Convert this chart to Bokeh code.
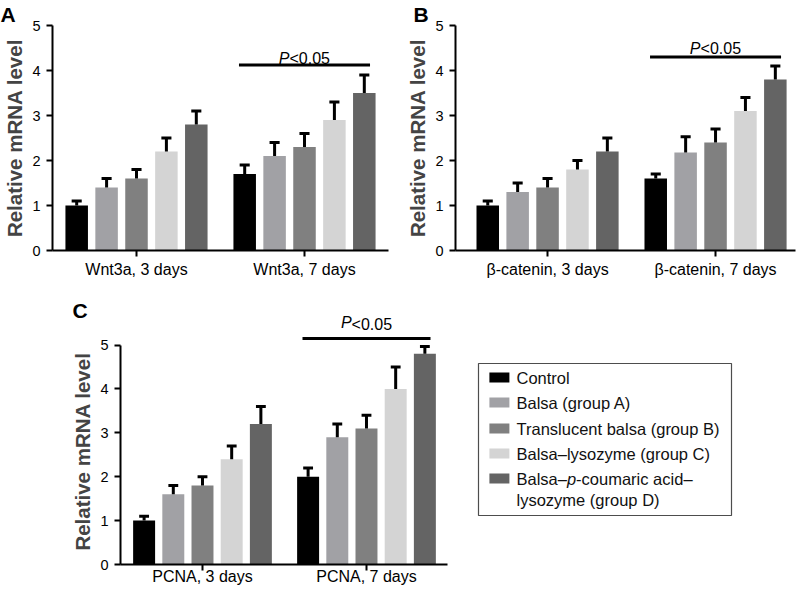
from bokeh.plotting import figure
from bokeh.layouts import column, row
from bokeh.models import Range1d, FixedTicker, Label, ColumnDataSource, LinearAxis
from bokeh.core.properties import value
from bokeh.embed import file_html
from bokeh.resources import INLINE

# ---------------- data ----------------
series = ["Control", "Balsa (group A)", "Translucent balsa (group B)",
          "Balsa–lysozyme (group C)", "Balsa–p-coumaric acid–lysozyme (group D)"]
colors = ["#000000", "#a1a1a5", "#808080", "#d4d4d4", "#646464"]

wnt3a_cats = ["Wnt3a, 3 days", "Wnt3a, 7 days"]
wnt3a_3d = [1.0, 1.4, 1.6, 2.2, 2.8]
wnt3a_3d_err = [0.1, 0.2, 0.2, 0.3, 0.3]
wnt3a_7d = [1.7, 2.1, 2.3, 2.9, 3.5]
wnt3a_7d_err = [0.2, 0.3, 0.3, 0.4, 0.4]

bcat_cats = ["β-catenin, 3 days", "β-catenin, 7 days"]
bcat_3d = [1.0, 1.3, 1.4, 1.8, 2.2]
bcat_3d_err = [0.1, 0.2, 0.2, 0.2, 0.3]
bcat_7d = [1.6, 2.18, 2.4, 3.1, 3.8]
bcat_7d_err = [0.1, 0.35, 0.3, 0.3, 0.3]

pcna_cats = ["PCNA, 3 days", "PCNA, 7 days"]
pcna_3d = [1.0, 1.6, 1.8, 2.4, 3.2]
pcna_3d_err = [0.1, 0.2, 0.2, 0.3, 0.4]
pcna_7d = [2.0, 2.9, 3.1, 4.0, 4.8]
pcna_7d_err = [0.2, 0.3, 0.3, 0.5, 0.17]

y_ticks = [0, 1, 2, 3, 4, 5]
sig_text = "P<0.05"
sig_level = {"A": 4.12, "B": 4.30, "C": 5.15}
y_label = "Relative mRNA level"

# ---------------- layout ----------------
FONT = "Liberation Sans"
PITCH = 0.178
BAR_W = 0.134
CAP = 0.03
SIG_HALF = 0.39


def style_axis(ax):
    ax.axis_line_width = 2
    ax.axis_line_color = "black"
    ax.major_tick_line_width = 2
    ax.major_tick_line_color = "black"
    ax.major_tick_in = 0
    ax.major_tick_out = 6
    ax.minor_tick_line_color = None
    ax.major_label_text_font = FONT
    ax.major_label_text_color = "black"


def sig_axis(tick, label, line, standoff, italic):
    ax = LinearAxis(bounds=(1 - SIG_HALF, 1 + SIG_HALF), ticker=FixedTicker(ticks=[tick]))
    ax.axis_line_width = 3
    ax.axis_line_color = "black" if line else None
    ax.major_tick_line_color = None
    ax.minor_tick_line_color = None
    ax.major_tick_out = 0
    ax.major_tick_in = 0
    ax.minor_tick_out = 0
    ax.minor_tick_in = 0
    ax.major_label_standoff = standoff
    ax.major_label_overrides = {tick: label}
    ax.major_label_text_font = FONT
    ax.major_label_text_font_size = "16px"
    ax.major_label_text_color = "black"
    if italic:
        ax.major_label_text_font_style = "italic"
    return ax


def make_panel(cats, m3, e3, m7, e7, w, h, borders, xr, y_end, sig_y, text_y,
               letter, letter_dx, letter_standoff, xlab_standoff, outside=False, ppu=168.0):
    l, r, t, b = borders
    p = figure(width=w, height=h,
               x_range=Range1d(*xr), y_range=Range1d(0, y_end),
               output_backend="svg", toolbar_location=None,
               min_border_left=l, min_border_right=r,
               min_border_top=t, min_border_bottom=b)
    p.outline_line_color = None
    p.grid.visible = False
    for i in range(5):
        xs = [g + (i - 2) * PITCH for g in (0, 1)]
        tops = [m3[i], m7[i]]
        ups = [m3[i] + e3[i], m7[i] + e7[i]]
        src = ColumnDataSource(dict(x=xs, top=tops, up=ups,
                                    x0=[x - CAP for x in xs], x1=[x + CAP for x in xs]))
        p.vbar(x="x", top="top", bottom=0, width=BAR_W, source=src,
               fill_color=colors[i], line_color=None)
        p.segment(x0="x", y0="top", x1="x", y1="up", source=src,
                  line_color="black", line_width=3)
        p.segment(x0="x0", y0="up", x1="x1", y1="up", source=src,
                  line_color="black", line_width=3)

    if not outside:
        p.segment(x0=[1 - SIG_HALF], y0=[sig_y], x1=[1 + SIG_HALF], y1=[sig_y],
                  line_color="black", line_width=3)
        off = -15.0
        p.add_layout(Label(x=1, y=text_y, text=sig_text[0], x_offset=off,
                           text_font=FONT, text_font_style="italic",
                           text_font_size="16px", text_align="right",
                           text_baseline="alphabetic", text_color="black"))
        p.add_layout(Label(x=1, y=text_y, text=sig_text[1:], x_offset=off,
                           text_font=FONT, text_font_size="16px", text_align="left",
                           text_baseline="alphabetic", text_color="black"))
    else:
        # significance bar sits on the frame top (y_end == sig level), drawn by
        # axes placed above the frame so that it is not clipped
        x_lt = 1 + 5.35 / ppu
        x_p = 1 - 20.25 / ppu
        ax1 = sig_axis(x_lt, sig_text[1:], True, 6, False)
        p.add_layout(ax1, "above")
        ax2 = sig_axis(x_p, sig_text[0], False, -18, True)
        p.add_layout(ax2, "above")

    # panel letter as title
    p.title.text = letter
    p.title.align = "left"
    p.title.offset = letter_dx
    p.title.standoff = letter_standoff
    p.title.vertical_align = "bottom"
    p.title.text_font = FONT
    p.title.text_font_style = "bold"
    p.title.text_font_size = "21px"
    p.title.text_color = "black"

    xa = p.below[0]
    xa.ticker = FixedTicker(ticks=[0, 1])
    xa.major_label_overrides = {0: cats[0], 1: cats[1]}
    ya = p.left[0]
    ya.ticker = FixedTicker(ticks=y_ticks)
    ya.bounds = (0, 5)
    ya.axis_label = y_label
    ya.axis_label_text_font = FONT
    ya.axis_label_text_font_style = "bold"
    ya.axis_label_text_font_size = "20.5px"
    ya.axis_label_standoff = 3
    ya.major_label_standoff = 6
    xa.major_label_standoff = xlab_standoff
    style_axis(xa)
    style_axis(ya)
    xa.major_label_text_font_size = "16px"
    ya.major_label_text_font_size = "14.5px"
    return p


C_TOP, C_BOTTOM, C_H = 48, 28, 302

pA = make_panel(wnt3a_cats, wnt3a_3d, wnt3a_3d_err, wnt3a_7d, wnt3a_7d_err,
                400, 290, (52, 12, 24, 40), (-0.5, 1.5), 5.0,
                sig_level["A"], 4.26, "A", -52, 0, 4)
pB = make_panel(bcat_cats, bcat_3d, bcat_3d_err, bcat_7d, bcat_7d_err,
                400, 290, (55, 5, 24, 40), (-0.548, 1.476), 5.0,
                sig_level["B"], 4.48, "B", -42, 0, 4)
pC = make_panel(pcna_cats, pcna_3d, pcna_3d_err, pcna_7d, pcna_7d_err,
                460, C_H, (120, 13, C_TOP, C_BOTTOM), (-0.5, 1.494), sig_level["C"],
                sig_level["C"], 5.34, "C", -48, -23, -3, outside=True, ppu=164.0)

# ---------------- legend panel (frame aligned with panel C) ----------------
pL = figure(width=340, height=C_H,
            x_range=Range1d(0, 340), y_range=Range1d(C_H - C_BOTTOM, C_TOP),
            x_axis_type=None, y_axis_type=None,
            min_border_left=0, min_border_right=0,
            min_border_top=C_TOP, min_border_bottom=C_BOTTOM,
            output_backend="svg", toolbar_location=None)
pL.outline_line_color = None
pL.grid.visible = False
pL.quad(left=[18], right=[271], top=[73], bottom=[225],
        fill_color=None, line_color="#4d4d4d", line_width=1.2)
row_y = [87, 112, 138, 163, 188]
pL.rect(x=[38.9] * 5, y=row_y, width=20, height=10,
        fill_color=colors, line_color=None)
tf = value(FONT)
tsz = value("16.5px")
pL.text(x=[56] * 4, y=row_y[:4], text=series[:4], text_font=tf,
        text_font_size=tsz, text_baseline="middle", text_align="left",
        text_color="#111111")
name_d = series[4]
pre, rest = name_d.split("p-", 1)
mid, tail = rest.split("–", 1)
pL.text(x=[56], y=[row_y[4]], text=[pre], text_font=tf, text_font_size=tsz,
        text_baseline="middle", text_color="#111111")
pL.text(x=[106.4], y=[row_y[4]], text=["p"], text_font=tf, text_font_size=tsz,
        text_font_style="italic", text_baseline="middle", text_color="#111111")
pL.text(x=[115.6], y=[row_y[4]], text=["-" + mid + "–"], text_font=tf,
        text_font_size=tsz, text_baseline="middle", text_color="#111111")
pL.text(x=[56], y=[209], text=[tail], text_font=tf, text_font_size=tsz,
        text_baseline="middle", text_color="#111111")

layout = column(row(pA, pB), row(pC, pL))
open("out.html", "w").write(file_html(layout, INLINE))
